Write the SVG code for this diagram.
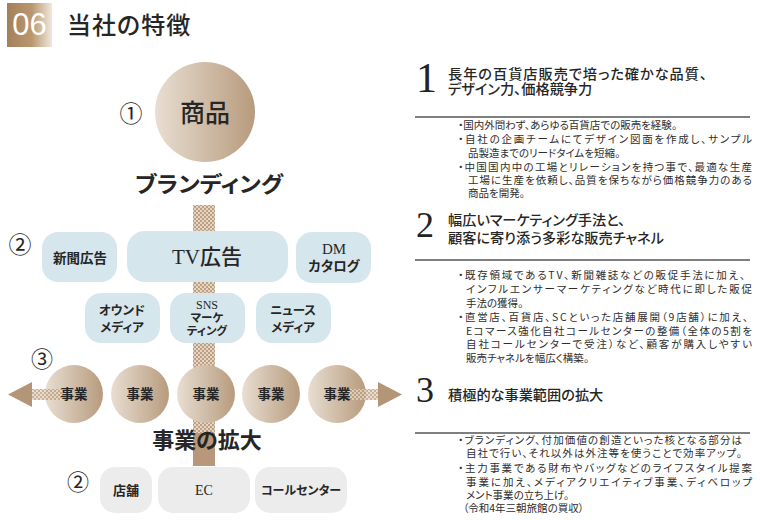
<svg xmlns="http://www.w3.org/2000/svg" width="760" height="520" viewBox="0 0 760 520">
<defs>
<linearGradient id="badge" x1="0" y1="0" x2="1" y2="0">
<stop offset="0" stop-color="#a4805a"/><stop offset="0.55" stop-color="#b8976f"/><stop offset="1" stop-color="#f1e8dd"/>
</linearGradient>
<linearGradient id="ball" x1="0" y1="0" x2="1" y2="0">
<stop offset="0" stop-color="#e8ded2"/><stop offset="1" stop-color="#b79b7d"/>
</linearGradient>
<pattern id="dots" width="4" height="4" patternUnits="userSpaceOnUse">
<rect width="4" height="4" fill="#e4d5c4"/>
<circle cx="1" cy="1" r="1" fill="#b08d6b"/>
<circle cx="3" cy="3" r="1" fill="#b08d6b"/>
</pattern>
<style>
.jp{font-family:"Noto Sans CJK JP","Noto Sans",sans-serif;fill:#262626;font-feature-settings:"palt";}
.mx{font-family:"Liberation Serif","Noto Sans CJK JP",serif;fill:#262626;}
.b{font-weight:700;}
.m{font-weight:500;}
.c{text-anchor:middle;}
.blue{fill:#d6e6ed;}
.grey{fill:#ececec;}
.body{font-size:10.5px;fill:#2e2e2e;}
.ttl{font-size:14.2px;font-weight:500;}
.num{font-family:"Liberation Serif",serif;fill:#222;}
.rule{stroke:#555;stroke-width:1.6;}
</style>
</defs>
<rect width="760" height="520" fill="#ffffff"/>

<g id="header">
<rect x="7" y="3" width="45" height="44" fill="url(#badge)"/>
<text x="29.5" y="35" font-family="Liberation Sans,sans-serif" font-size="31" fill="#ffffff" text-anchor="middle">06</text>
<text x="67" y="34" class="jp m" font-size="24" letter-spacing="1">当社の特徴</text>
</g>

<g id="connectors">
<rect x="193" y="205" width="22" height="230" fill="url(#dots)"/>
<rect x="193" y="433" width="22" height="33" fill="#b8977a"/>
</g>

<g id="product">
<circle cx="205" cy="112" r="50" fill="url(#ball)"/>
<text x="205" y="122" class="jp m c" font-size="25">商品</text>
<text x="131" y="122" class="jp c" font-size="23">①</text>
</g>
<g id="branding">
<text x="209" y="192" class="jp b c" font-size="22" textLength="148" lengthAdjust="spacingAndGlyphs">ブランディング</text>
</g>

<g id="label2a"><text x="20" y="253" class="jp c" font-size="23">②</text></g>
<g id="newspaper">
<rect x="42" y="232" width="75" height="50" rx="16" class="blue"/>
<text x="80" y="263" class="jp b c" font-size="13.5">新聞広告</text>
</g>
<g id="tv">
<rect x="127" y="231" width="161" height="51" rx="18" class="blue"/>
<text x="207" y="264" class="mx c" font-size="21"><tspan>TV</tspan><tspan font-family="Noto Sans CJK JP,sans-serif" font-weight="500">広告</tspan></text>
</g>
<g id="dm">
<rect x="296" y="232" width="75" height="51" rx="16" class="blue"/>
<text x="334" y="254" class="mx c" font-size="15">DM</text>
<text x="334" y="271" class="jp b c" font-size="13.5">カタログ</text>
</g>
<g id="owned">
<rect x="85" y="293" width="75" height="50" rx="16" class="blue"/>
<text x="122" y="315" class="jp b c" font-size="12.5">オウンド</text>
<text x="122" y="332" class="jp b c" font-size="12.5">メディア</text>
</g>
<g id="sns">
<rect x="170" y="293" width="75" height="50" rx="16" class="blue"/>
<text x="207" y="309" class="mx c" font-size="12">SNS</text>
<text x="207" y="322" class="jp b c" font-size="11.5">マーケ</text>
<text x="207" y="335" class="jp b c" font-size="11.5">ティング</text>
</g>
<g id="news">
<rect x="256" y="293" width="75" height="50" rx="16" class="blue"/>
<text x="293" y="315" class="jp b c" font-size="12.5">ニュース</text>
<text x="293" y="332" class="jp b c" font-size="12.5">メディア</text>
</g>

<g id="label3"><text x="42" y="367" class="jp c" font-size="22">③</text></g>
<g id="biz1"><circle cx="74" cy="394" r="29" fill="url(#ball)"/></g>
<g id="biz2"><circle cx="140" cy="394" r="29" fill="url(#ball)"/><text x="140" y="399" class="jp b c" font-size="13.5">事業</text></g>
<g id="biz3"><circle cx="206" cy="394" r="29" fill="url(#ball)"/><text x="206" y="399" class="jp b c" font-size="13.5">事業</text></g>
<g id="biz4"><circle cx="271" cy="394" r="29" fill="url(#ball)"/><text x="271" y="399" class="jp b c" font-size="13.5">事業</text></g>
<g id="biz5"><circle cx="337" cy="394" r="29" fill="url(#ball)"/></g>

<g id="arrows">
<rect x="30" y="389" width="32" height="11" fill="url(#dots)" opacity="0.8"/>
<polygon points="8,394.5 32,382 32,407" fill="#b39677"/>
<rect x="348" y="389" width="32" height="11" fill="url(#dots)" opacity="0.8"/>
<polygon points="402,394.5 378,382 378,407" fill="#b39677"/>
</g>
<g id="biz1label"><text x="74" y="399" class="jp b c" font-size="13.5">事業</text></g>
<g id="biz5label"><text x="337" y="399" class="jp b c" font-size="13.5">事業</text></g>

<g id="expansion">
<text x="207" y="448" class="jp b c" font-size="22">事業の拡大</text>
</g>

<g id="label2b"><text x="78" y="490" class="jp c" font-size="22">②</text></g>
<g id="store">
<rect x="100" y="467" width="52" height="46" rx="15" class="grey"/>
<text x="126" y="495" class="jp b c" font-size="13">店舗</text>
</g>
<g id="ec">
<rect x="158" y="467" width="92" height="46" rx="15" class="grey"/>
<text x="204" y="495" class="mx c" font-size="14">EC</text>
</g>
<g id="callcenter">
<rect x="255" y="467" width="92" height="46" rx="15" class="grey"/>
<text x="301" y="495" class="jp b c" font-size="12">コールセンター</text>
</g>

<g id="feature1">
<text x="416" y="92" class="num" font-size="42">1</text>
<text x="448" y="79" class="jp ttl" textLength="259" lengthAdjust="spacing">長年の百貨店販売で培った確かな品質、</text>
<text x="448" y="94" class="jp ttl">デザイン力、価格競争力</text>
<line x1="415" y1="117" x2="750" y2="117" class="rule"/>
<text x="458" y="129" class="jp body">・国内外問わず、あらゆる百貨店での販売を経験。</text>
<text x="458" y="143" class="jp body" textLength="294" lengthAdjust="spacing">・自社の企画チームにてデザイン図面を作成し、サンプル</text>
<text x="468" y="157" class="jp body">品製造までのリードタイムを短縮。</text>
<text x="458" y="171" class="jp body" textLength="294" lengthAdjust="spacing">・中国国内中の工場とリレーションを持つ事で、最適な生産</text>
<text x="468" y="184" class="jp body" textLength="284" lengthAdjust="spacing">工場に生産を依頼し、品質を保ちながら価格競争力のある</text>
<text x="468" y="197" class="jp body">商品を開発。</text>
</g>

<g id="feature2">
<text x="416" y="237" class="num" font-size="36">2</text>
<text x="448" y="225" class="jp ttl">幅広いマーケティング手法と、</text>
<text x="448" y="243" class="jp ttl">顧客に寄り添う多彩な販売チャネル</text>
<line x1="415" y1="260" x2="750" y2="260" class="rule"/>
<text x="458" y="279" class="jp body" textLength="287" lengthAdjust="spacing">・既存領域であるTV、新聞雑誌などの販促手法に加え、</text>
<text x="466" y="293" class="jp body" textLength="286" lengthAdjust="spacing">インフルエンサーマーケティングなど時代に即した販促</text>
<text x="466" y="307" class="jp body">手法の獲得。</text>
<text x="458" y="321" class="jp body" textLength="290" lengthAdjust="spacing">・直営店、百貨店、SCといった店舗展開（9店舗）に加え、</text>
<text x="466" y="335" class="jp body" textLength="286" lengthAdjust="spacing">Eコマース強化自社コールセンターの整備（全体の5割を</text>
<text x="466" y="348" class="jp body" textLength="286" lengthAdjust="spacing">自社コールセンターで受注）など、顧客が購入しやすい</text>
<text x="466" y="362" class="jp body">販売チャネルを幅広く構築。</text>
</g>

<g id="feature3">
<text x="416" y="402" class="num" font-size="36">3</text>
<text x="448" y="400" class="jp ttl">積極的な事業範囲の拡大</text>
<line x1="415" y1="433" x2="750" y2="433" class="rule"/>
<text x="458" y="444" class="jp body" textLength="284" lengthAdjust="spacing">・ブランディング、付加価値の創造といった核となる部分は</text>
<text x="466" y="457" class="jp body" textLength="276" lengthAdjust="spacing">自社で行い、それ以外は外注等を使うことで効率アップ。</text>
<text x="458" y="472" class="jp body" textLength="294" lengthAdjust="spacing">・主力事業である財布やバッグなどのライフスタイル提案</text>
<text x="466" y="486" class="jp body" textLength="286" lengthAdjust="spacing">事業に加え、メディアクリエイティブ事業、ディベロップ</text>
<text x="466" y="499" class="jp body">メント事業の立ち上げ。</text>
<text x="463" y="512" class="jp body">（令和4年三朝旅館の買収）</text>
</g>
</svg>
